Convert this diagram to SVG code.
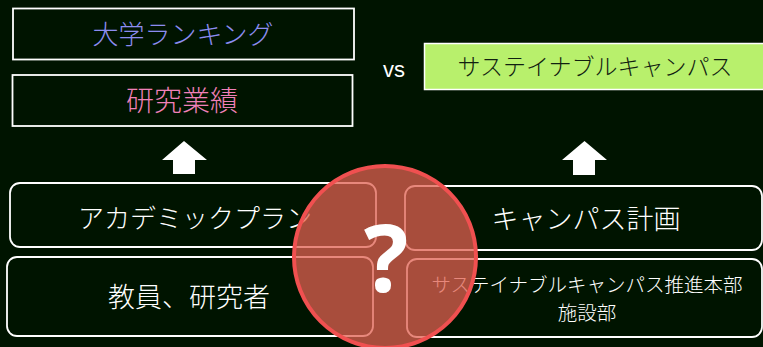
<svg xmlns="http://www.w3.org/2000/svg" width="763" height="347" viewBox="0 0 763 347">
<style>
text{font-family:"Noto Sans CJK JP","Noto Sans",sans-serif;text-anchor:middle;font-weight:300}
.box{fill:none;stroke:#ffffff;stroke-width:1.8}
.rbox{fill:none;stroke:#ffffff;stroke-width:1.8}
.w{fill:#ffffff}
.q{font-family:"Noto Sans",sans-serif;font-weight:bold}
.vs{font-family:"Liberation Sans",sans-serif;font-weight:normal}
</style>
<rect width="763" height="347" fill="#001400"/>
<g id="ranking">
<rect class="box" x="13" y="8.5" width="341" height="51"/>
<text x="183" y="44" font-size="26" fill="#8c8cf0">大学ランキング</text>
</g>
<g id="research">
<rect class="box" x="12.5" y="75" width="340" height="51"/>
<text x="182" y="111" font-size="28" fill="#f080b8">研究業績</text>
</g>
<g id="vs">
<text x="394" y="77" font-size="22" class="w vs">vs</text>
</g>
<g id="sustainable">
<rect x="424.5" y="43.5" width="345" height="46" fill="#b8f06c" stroke="#ffffff" stroke-width="1.5"/>
<text x="595" y="75" font-size="23" fill="#102010">サステイナブルキャンパス</text>
</g>
<g id="connectors">
<polygon class="w" points="162,160 184,141 207,160 195,160 195,174 173,174 173,160"/>
<polygon class="w" points="562,160 584.5,141 607,160 595,160 595,175 573,175 573,160"/>
</g>
<g id="academic">
<rect class="rbox" x="10" y="183" width="366" height="64" rx="10"/>
<text x="195" y="228" font-size="26" class="w">アカデミックプラン</text>
</g>
<g id="faculty">
<rect class="rbox" x="7" y="257" width="366" height="79" rx="10"/>
<text x="189" y="307" font-size="27" class="w">教員、研究者</text>
</g>
<g id="campusplan">
<rect class="rbox" x="405" y="186" width="357" height="64" rx="10"/>
<text x="586" y="229" font-size="27" class="w">キャンパス計画</text>
</g>
<g id="office">
<rect class="rbox" x="407" y="259" width="355" height="78" rx="10"/>
<text x="587" y="292" font-size="19.5" class="w">サステイナブルキャンパス推進本部</text>
<text x="587" y="320" font-size="19.5" class="w">施設部</text>
</g>
<g id="question">
<circle cx="385" cy="257" r="91" fill="#e06050" fill-opacity="0.75" stroke="#f05050" stroke-width="4"/>
<text x="386" y="292" font-size="93" class="w q">?</text>
</g>
</svg>
